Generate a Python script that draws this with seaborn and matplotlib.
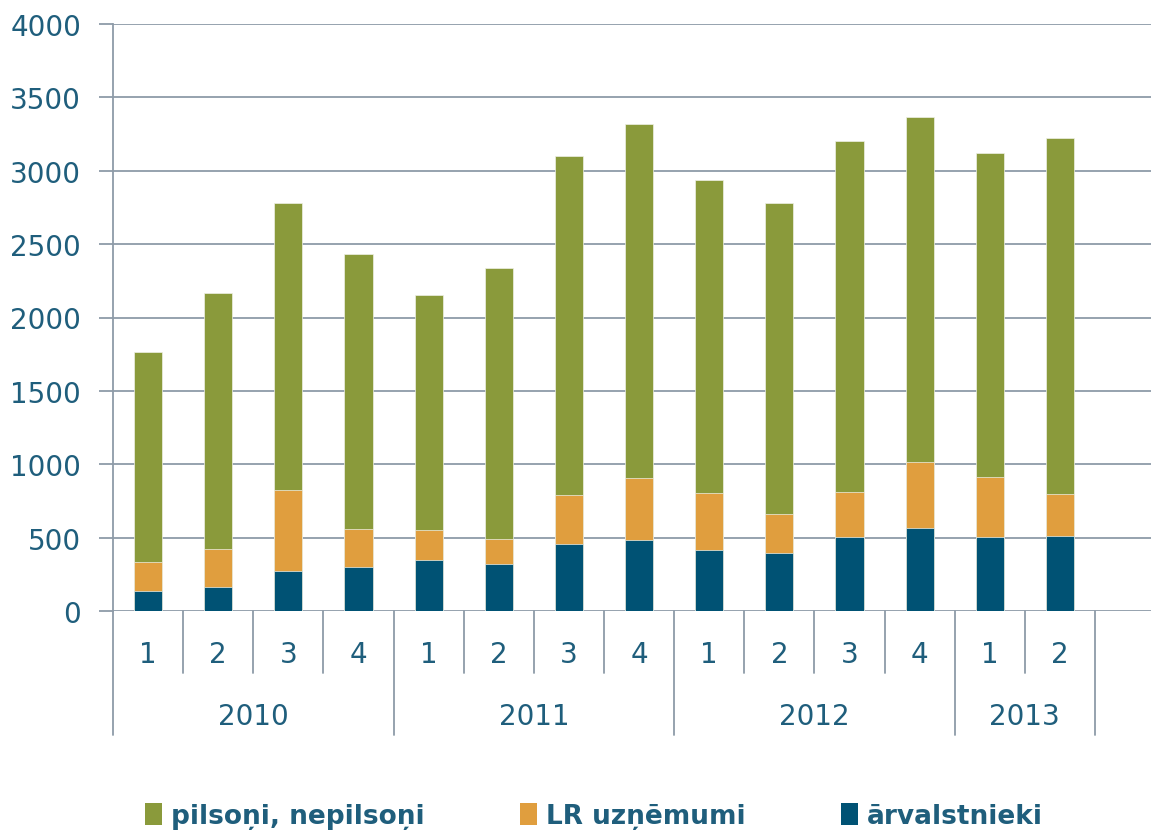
import matplotlib
matplotlib.use("Agg")
import matplotlib.pyplot as plt
import matplotlib.transforms as mtransforms
from matplotlib.patches import Patch
import seaborn as sns
import pandas as pd

years = ["2010", "2011", "2012", "2013"]
quarters_per_year = [4, 4, 4, 2]
quarter_labels = ["1", "2", "3", "4", "1", "2", "3", "4", "1", "2", "3", "4", "1", "2"]
series_names = ["pilsoņi, nepilsoņi", "LR uzņēmumi", "ārvalstnieki"]
arvalstnieki = [138, 163, 272, 297, 348, 320, 456, 484, 416, 393, 504, 564, 504, 513]
lr_uznemumi = [195, 261, 551, 263, 201, 168, 337, 424, 390, 270, 306, 449, 408, 286]
pilsoni = [1429, 1743, 1958, 1872, 1601, 1848, 2308, 2411, 2134, 2116, 2395, 2356, 2208, 2427]
yticks = [0, 500, 1000, 1500, 2000, 2500, 3000, 3500, 4000]

c_green = "#8A9A3B"
c_orange = "#E09E3E"
c_blue = "#005274"
c_text = "#1F5E7C"
c_grid = "#8D9BA8"

sns.set_theme(style="white")
plt.rcParams["font.family"] = ["DejaVu Sans"]

periods = []
for y, n in zip(years, quarters_per_year):
    for q in range(n):
        periods.append(f"{y}-{q+1}")

blue_top = arvalstnieki
orange_top = [a + b for a, b in zip(arvalstnieki, lr_uznemumi)]
total = [o + p for o, p in zip(orange_top, pilsoni)]
df = pd.DataFrame({"period": periods, "total": total, "orange": orange_top, "blue": blue_top})

fig = plt.figure(figsize=(11.51, 8.37), dpi=100)
ax = fig.add_axes([113 / 1151, 1 - 612 / 837, 1 - 113 / 1151, (612 - 25) / 837])

for col, color in [("total", c_green), ("orange", c_orange), ("blue", c_blue)]:
    sns.barplot(data=df, x="period", y=col, order=periods, color=color, width=0.4,
                saturation=1, edgecolor="#EEF0E6", linewidth=0.5, ax=ax, zorder=3)

n = len(periods)
slot_px = (1095 - 113) / n
ax.set_xlim(-0.5, -0.5 + (1151 - 113) / slot_px)
ax.set_ylim(0, 4000)
ax.set_yticks(yticks)
ax.set_yticklabels([str(v) for v in yticks], fontsize=20, color=c_text)
ax.yaxis.grid(True, color=c_grid, linewidth=1.3, zorder=0)
ax.set_axisbelow(True)
ax.tick_params(axis="y", length=10, width=1.3, color=c_grid, pad=13, left=True)
ax.tick_params(axis="x", length=0, labelbottom=False)
ax.set_xlabel("")
ax.set_ylabel("")
for s in ["top", "right", "bottom"]:
    ax.spines[s].set_visible(False)
ax.spines["left"].set_color(c_grid)
ax.spines["left"].set_linewidth(1.3)

trans = mtransforms.blended_transform_factory(ax.transData, ax.transAxes)
h_ax = 612 - 25
short_y = -(674 - 612) / h_ax
long_y = -(736 - 612) / h_ax
q_y = -(655 - 612) / h_ax
yr_y = -(717 - 612) / h_ax

year_bounds = [0]
for nq in quarters_per_year:
    year_bounds.append(year_bounds[-1] + nq)
for i in range(n + 1):
    bottom = long_y if i in year_bounds else short_y
    ax.plot([i - 0.5, i - 0.5], [0, bottom], transform=trans, color=c_grid,
            linewidth=1.3, clip_on=False, zorder=1)

for i, ql in enumerate(quarter_labels):
    ax.text(i, q_y, ql, transform=trans, ha="center", va="center", fontsize=20, color=c_text)
for k, y in enumerate(years):
    mid = (year_bounds[k] + year_bounds[k + 1]) / 2 - 0.5
    ax.text(mid, yr_y, y, transform=trans, ha="center", va="center", fontsize=20, color=c_text)

handles = [Patch(facecolor=c, edgecolor="none") for c in [c_green, c_orange, c_blue]]
leg = fig.legend(handles, series_names, ncol=3, loc="center", bbox_to_anchor=(0.516, 0.024),
                 frameon=False, handlelength=0.65, handleheight=0.95, handletextpad=0.35,
                 columnspacing=3.6, prop={"weight": "bold", "size": 19})
for t in leg.get_texts():
    t.set_color(c_text)

fig.savefig("out.png", dpi=100)
